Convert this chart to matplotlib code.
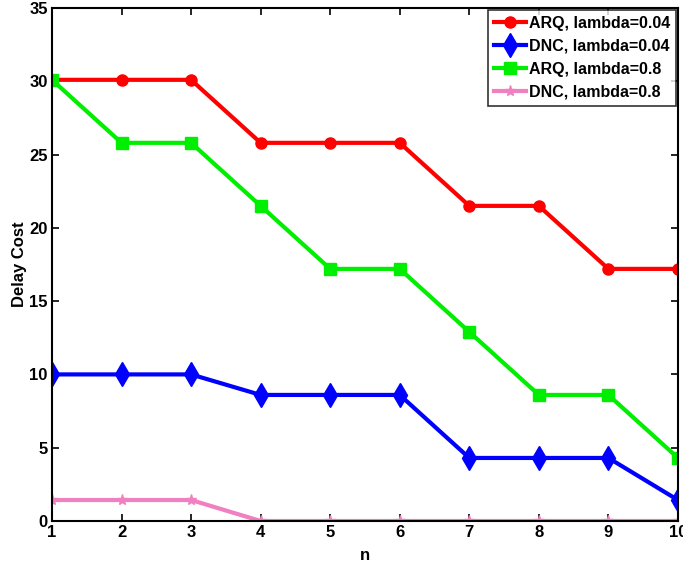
import matplotlib.pyplot as plt

# delay cost vs n for the two schemes at two arrival rates
n = [1, 2, 3, 4, 5, 6, 7, 8, 9, 10]
arq_004 = [30.1, 30.1, 30.1, 25.8, 25.8, 25.8, 21.5, 21.5, 17.2, 17.2]
dnc_004 = [10.0, 10.0, 10.0, 8.6, 8.6, 8.6, 4.3, 4.3, 4.3, 1.43]
arq_08 = [30.1, 25.8, 25.8, 21.5, 17.2, 17.2, 12.9, 8.6, 8.6, 4.3]
dnc_08 = [1.43, 1.43, 1.43, 0, 0, 0, 0, 0, 0, 0]

labels = ["ARQ, lambda=0.04", "DNC, lambda=0.04", "ARQ, lambda=0.8", "DNC, lambda=0.8"]
xticks = list(range(1, 11))
yticks = [0, 5, 10, 15, 20, 25, 30, 35]

plt.rcParams["font.family"] = "Liberation Sans"
plt.rcParams["font.weight"] = "bold"

fig = plt.figure(figsize=(6.83, 5.71), dpi=100)
ax = fig.add_axes([0.0761, 0.0876, 0.9165, 0.8984])

ax.plot(n, arq_004, color="#ff0000", lw=3, marker="o", ms=8, label=labels[0])
ax.plot(n, dnc_004, color="#0000ff", lw=3, marker="d", ms=12, mfc="#0000ff",
        mec="#0000ff", label=labels[1])
ax.plot(n, arq_08, color="#00ee00", lw=3, marker="s", ms=8, label=labels[2])
ax.plot(n, dnc_08, color="#f080c0", lw=3, marker="*", ms=8, label=labels[3])

ax.set_xlim(1, 10)
ax.set_ylim(0, 35)
ax.set_xticks(xticks)
ax.set_yticks(yticks)
ax.tick_params(direction="in", top=True, right=True, length=5, width=1.2,
               labelsize=12, pad=3)
for lab in ax.get_xticklabels() + ax.get_yticklabels():
    lab.set_fontweight("bold")
for s in ax.spines.values():
    s.set_linewidth(1.5)

ax.set_xlabel("n", fontsize=12, fontweight="bold", labelpad=6)
ax.set_ylabel("Delay Cost", fontsize=12, fontweight="bold", labelpad=2)

leg = ax.legend(loc="upper right", fontsize=11.5, frameon=True, fancybox=False,
                edgecolor="black", borderpad=0.35, labelspacing=0.5,
                handlelength=2.0, handletextpad=0.2, borderaxespad=0.15)
leg.get_frame().set_linewidth(1.2)
for t in leg.get_texts():
    t.set_fontweight("bold")

fig.savefig("out.png", dpi=100)
